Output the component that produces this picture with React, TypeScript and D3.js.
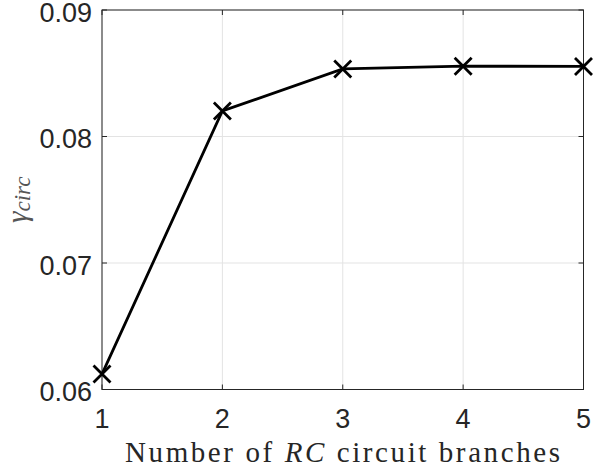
import React from 'react';
import * as d3 from 'd3';

const branches = [1, 2, 3, 4, 5];
const gammaCirc = [0.06122, 0.08202, 0.08534, 0.08556, 0.08554];
const xTicks = [1, 2, 3, 4, 5];
const yTicks = [0.06, 0.07, 0.08, 0.09];

const W = 593;
const H = 472;
const left = 102;
const right = 583.5;
const top = 10;
const bottom = 389.5;
const axisColor = '#262626';
const tickFont = '"Liberation Sans", Arial, sans-serif';
const serif = '"Liberation Serif", "Times New Roman", serif';

export default function App() {
  const x = d3.scaleLinear().domain([1, 5]).range([left, right]);
  const y = d3.scaleLinear().domain([0.06, 0.09]).range([bottom, top]);
  const pts: [number, number][] = branches.map((b, i) => [b, gammaCirc[i]]);
  const line = d3.line<[number, number]>().x(d => x(d[0])).y(d => y(d[1]));
  const m = 8.5;

  return (
    <svg width={W} height={H} style={{ position: 'absolute', left: 0, top: 0, background: '#fff' }}>
      <rect x={0} y={0} width={W} height={H} fill="#fff" />
      {/* grid */}
      {xTicks.map(t => (
        <line key={'gx' + t} x1={x(t)} x2={x(t)} y1={top} y2={bottom} stroke="#e3e3e3" strokeWidth={1} />
      ))}
      {yTicks.map(t => (
        <line key={'gy' + t} x1={left} x2={right} y1={y(t)} y2={y(t)} stroke="#e3e3e3" strokeWidth={1} />
      ))}
      {/* box */}
      <rect x={left} y={top} width={right - left} height={bottom - top} fill="none" stroke={axisColor} strokeWidth={1} />
      {/* ticks */}
      {xTicks.map(t => (
        <g key={'tx' + t}>
          <line x1={x(t)} x2={x(t)} y1={bottom} y2={bottom - 5} stroke={axisColor} />
          <line x1={x(t)} x2={x(t)} y1={top} y2={top + 5} stroke={axisColor} />
          <text x={x(t)} y={bottom + 38.5} textAnchor="middle" fontFamily={tickFont} fontSize={27} fill={axisColor}>
            {t}
          </text>
        </g>
      ))}
      {yTicks.map(t => (
        <g key={'ty' + t}>
          <line x1={left} x2={left + 5} y1={y(t)} y2={y(t)} stroke={axisColor} />
          <line x1={right} x2={right - 5} y1={y(t)} y2={y(t)} stroke={axisColor} />
          <text x={left - 10} y={y(t) + 11.5} textAnchor="end" fontFamily={tickFont} fontSize={27} fill={axisColor}>
            {d3.format('.2f')(t)}
          </text>
        </g>
      ))}
      {/* series */}
      <path d={line(pts) || ''} fill="none" stroke="#000" strokeWidth={2.8} />
      {pts.map((p, i) => (
        <path
          key={'m' + i}
          d={`M${x(p[0]) - m},${y(p[1]) - m}L${x(p[0]) + m},${y(p[1]) + m}M${x(p[0]) - m},${y(p[1]) + m}L${x(p[0]) + m},${y(p[1]) - m}`}
          stroke="#000"
          strokeWidth={2.8}
          fill="none"
        />
      ))}
      {/* labels */}
      <text
        x={342.5}
        y={462}
        textAnchor="middle"
        fontFamily={serif}
        fontSize={29}
        fill={axisColor}
        textLength={435}
        lengthAdjust="spacing"
      >
        Number of <tspan fontStyle="italic">RC</tspan> circuit branches
      </text>
      <text
        transform={`translate(27,${(top + bottom) / 2}) rotate(-90)`}
        textAnchor="middle"
        fontFamily={serif}
        fontStyle="italic"
        fill="#555"
      >
        <tspan fontSize={29}>γ</tspan>
        <tspan fontSize={23} dy={3}>circ</tspan>
      </text>
    </svg>
  );
}
